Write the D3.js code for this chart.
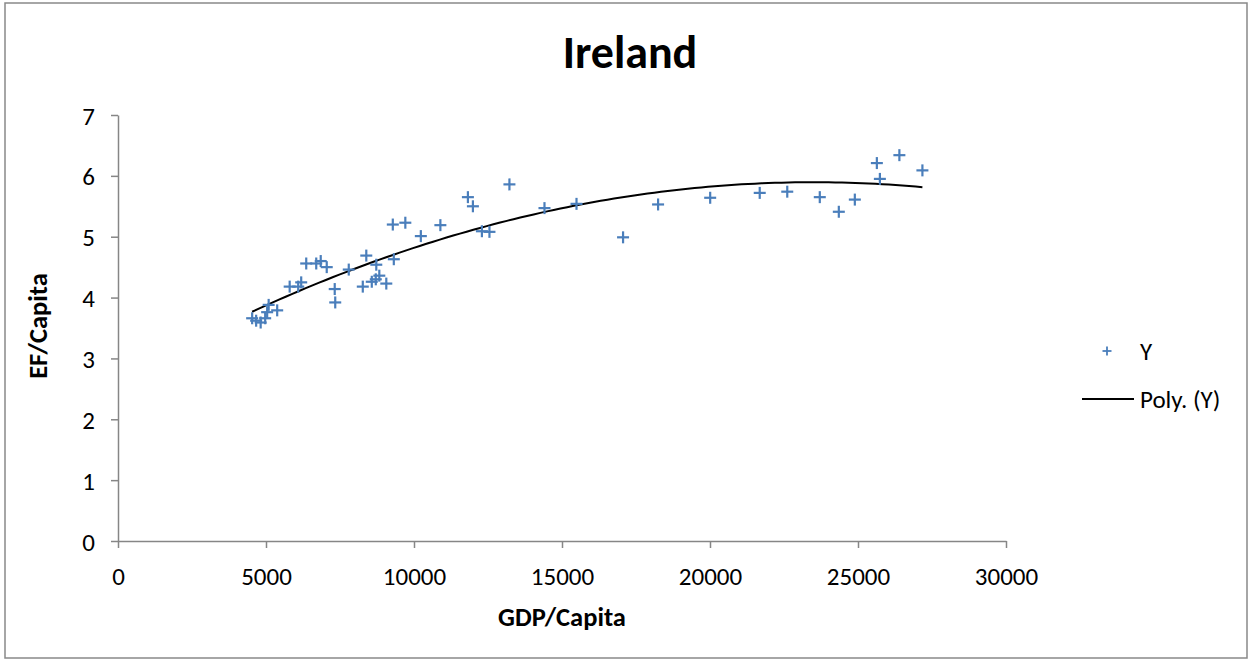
<!DOCTYPE html>
<html>
<head>
<meta charset="utf-8">
<script src="https://cdn.jsdelivr.net/npm/d3@7"></script>
<style>
  html, body { margin: 0; padding: 0; background: #fff; }
  svg { display: block; }
  text { font-family: Carlito, Lato, "Open Sans", sans-serif; fill: #000; }
</style>
</head>
<body>
<svg id="chart" width="1252" height="661"></svg>
<script>
// GDP per capita and ecological footprint per capita, Ireland
const gdp = [4532, 4667, 4820, 4972, 5039, 5090, 5378, 5800, 6088, 6189,
             6359, 6697, 6849, 7052, 7322, 7339, 7796, 8270, 8388, 8574,
             8726, 8709, 8828, 9064, 9318, 9284, 9707, 10231, 10891, 11821,
             11990, 12294, 12549, 13224, 14408, 15490, 17063, 18246, 20006, 21680,
             22610, 23709, 24352, 24893, 25637, 25739, 26398, 27176];
const ef  = [3.66, 3.62, 3.59, 3.66, 3.76, 3.88, 3.79, 4.18, 4.18, 4.25,
             4.56, 4.56, 4.60, 4.50, 4.14, 3.92, 4.46, 4.18, 4.69, 4.26,
             4.54, 4.30, 4.36, 4.23, 4.63, 5.20, 5.23, 5.01, 5.19, 5.65,
             5.50, 5.09, 5.08, 5.86, 5.47, 5.54, 4.99, 5.53, 5.64, 5.72,
             5.74, 5.65, 5.41, 5.61, 6.21, 5.95, 6.34, 6.09];

const xTicks = [0, 5000, 10000, 15000, 20000, 25000, 30000];
const yTicks = [0, 1, 2, 3, 4, 5, 6, 7];
const title = "Ireland";
const xTitle = "GDP/Capita";
const yTitle = "EF/Capita";
const seriesName = "Y";
const trendName = "Poly. (Y)";

const blue = "#4a7ebb";
const axisGrey = "#868686";

const svg = d3.select("#chart");

// outer chart border
svg.append("rect")
  .attr("x", 5).attr("y", 3).attr("width", 1242).attr("height", 655)
  .attr("fill", "#fff").attr("stroke", "#898989").attr("stroke-width", 1.5);

const x = d3.scaleLinear().domain([0, 30000]).range([118, 1006]);
const y = d3.scaleLinear().domain([0, 7]).range([541, 115]);

// axes
const xAxis = svg.append("g").attr("transform", `translate(0,${y(0)})`)
  .call(d3.axisBottom(x).tickValues(xTicks).tickFormat(d3.format("d")).tickSizeInner(7).tickSizeOuter(0).tickPadding(19));
const yAxis = svg.append("g").attr("transform", `translate(${x(0)},0)`)
  .call(d3.axisLeft(y).tickValues(yTicks).tickFormat(d3.format("d")).tickSizeInner(7).tickSizeOuter(0).tickPadding(16));

[xAxis, yAxis].forEach(g => {
  g.select(".domain").attr("stroke", axisGrey).attr("stroke-width", 1.5);
  g.selectAll(".tick line").attr("stroke", axisGrey).attr("stroke-width", 1.5);
  g.selectAll(".tick text")
    .attr("font-family", "Carlito, Lato, sans-serif")
    .attr("font-size", 25).attr("fill", "#000");
});
xAxis.selectAll(".tick text").attr("dy", "0.71em");
yAxis.selectAll(".tick text").attr("dy", "0.36em");

// second-order polynomial least-squares fit of ef on gdp
function quadFit(xs, ys) {
  let s = [0, 0, 0, 0, 0], t = [0, 0, 0];
  const sc = 10000;
  xs.forEach((xv, i) => {
    const u = xv / sc;
    let p = 1;
    for (let k = 0; k < 5; k++) { s[k] += p; if (k < 3) t[k] += p * ys[i]; p *= u; }
  });
  const A = [[s[0], s[1], s[2], t[0]], [s[1], s[2], s[3], t[1]], [s[2], s[3], s[4], t[2]]];
  for (let c = 0; c < 3; c++) {
    for (let r = c + 1; r < 3; r++) {
      const f = A[r][c] / A[c][c];
      for (let k = c; k < 4; k++) A[r][k] -= f * A[c][k];
    }
  }
  const b = [0, 0, 0];
  for (let r = 2; r >= 0; r--) {
    let v = A[r][3];
    for (let k = r + 1; k < 3; k++) v -= A[r][k] * b[k];
    b[r] = v / A[r][r];
  }
  return xv => { const u = xv / sc; return b[0] + b[1] * u + b[2] * u * u; };
}
const fit = quadFit(gdp, ef);
const [gMin, gMax] = d3.extent(gdp);
const trendPts = d3.range(0, 101).map(i => {
  const g = gMin + (gMax - gMin) * i / 100;
  return [g, fit(g)];
});

svg.append("path")
  .datum(trendPts)
  .attr("fill", "none").attr("stroke", "#000").attr("stroke-width", 2)
  .attr("d", d3.line().x(d => x(d[0])).y(d => y(d[1])));

// plus-shaped markers
function plus(sel, r) {
  sel.append("line").attr("x1", -r).attr("x2", r).attr("y1", 0).attr("y2", 0);
  sel.append("line").attr("x1", 0).attr("x2", 0).attr("y1", -r).attr("y2", r);
}
svg.append("g").attr("stroke", blue).attr("stroke-width", 2.2)
  .selectAll("g").data(gdp.map((g, i) => [g, ef[i]])).join("g")
  .attr("transform", d => `translate(${x(d[0])},${y(d[1])})`)
  .each(function () { plus(d3.select(this), 6); });

// titles
svg.append("text").attr("x", 630).attr("y", 68).attr("text-anchor", "middle")
  .attr("font-size", 46).attr("font-weight", "bold").text(title);
svg.append("text").attr("x", 562).attr("y", 626).attr("text-anchor", "middle")
  .attr("font-size", 26.5).attr("font-weight", "bold").text(xTitle);
svg.append("text").attr("transform", "translate(47,326) rotate(-90)").attr("text-anchor", "middle")
  .attr("font-size", 26.5).attr("font-weight", "bold").text(yTitle);

// legend
const lg = svg.append("g");
lg.append("g").attr("transform", "translate(1107,351)")
  .attr("stroke", blue).attr("stroke-width", 1.8)
  .call(g => plus(g, 4.5));
lg.append("text").attr("x", 1140).attr("y", 351).attr("dy", "0.36em")
  .attr("font-size", 25).text(seriesName);
lg.append("line").attr("x1", 1082).attr("x2", 1134).attr("y1", 399).attr("y2", 399)
  .attr("stroke", "#000").attr("stroke-width", 2);
lg.append("text").attr("x", 1140).attr("y", 399).attr("dy", "0.36em")
  .attr("font-size", 25).text(trendName);
</script>
</body>
</html>
